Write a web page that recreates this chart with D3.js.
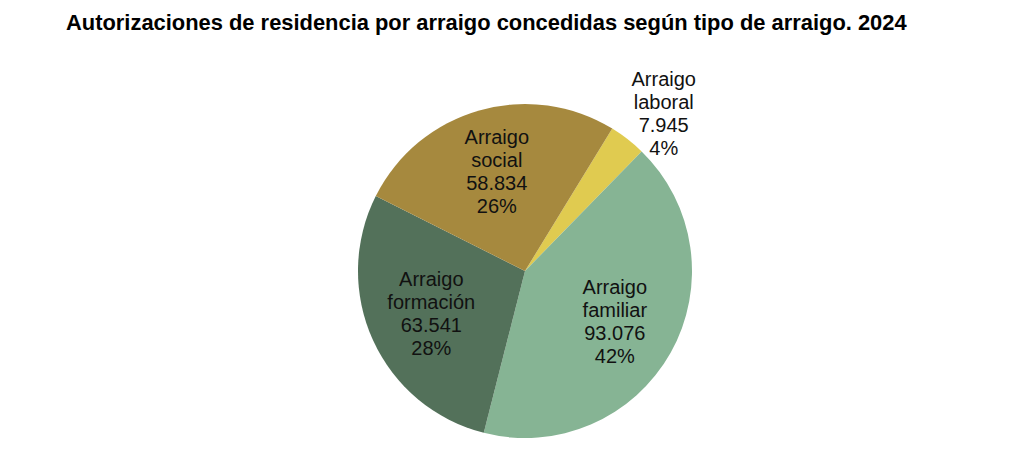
<!DOCTYPE html>
<html>
<head>
<meta charset="utf-8">
<script src="https://cdn.jsdelivr.net/npm/d3@7"></script>
<style>
  html, body { margin: 0; padding: 0; background: #fff; }
  svg { display: block; font-family: "Liberation Sans", Arial, sans-serif; }
</style>
</head>
<body>
<svg id="chart" width="1024" height="462"></svg>
<script>
// Autorizaciones de residencia por arraigo, 2024
const categories = ['Arraigo laboral', 'Arraigo familiar', 'Arraigo formación', 'Arraigo social'];
const values     = [7945, 93076, 63541, 58834];
const colors     = ['#e0cb50', '#86b494', '#53715a', '#a6893e'];

const W = 1024, H = 462;
const cx = 525, cy = 271, R = 167;
const START = 31.5 * Math.PI / 180;   // first slice begins just past 1 o'clock

const svg = d3.select('#chart');

svg.append('text')
  .attr('x', 66).attr('y', 30)
  .attr('font-size', 21.9).attr('font-weight', 'bold')
  .attr('fill', '#000')
  .text('Autorizaciones de residencia por arraigo concedidas según tipo de arraigo. 2024');

const data = categories.map((c, i) => ({ name: c, value: values[i], color: colors[i] }));
const total = d3.sum(values);

const pie = d3.pie().value(d => d.value).sort(null)
  .startAngle(START).endAngle(START + 2 * Math.PI);
const arcs = pie(data);

const arc = d3.arc().innerRadius(0).outerRadius(R);
const g = svg.append('g').attr('transform', `translate(${cx},${cy})`);

g.selectAll('path.slice')
  .data(arcs)
  .enter().append('path')
  .attr('class', 'slice')
  .attr('d', arc)
  .attr('fill', d => d.data.color);

// Labels: inside at ~0.62R, the small laboral slice outside
const fmt = d3.formatLocale({ decimal: ',', thousands: '.', grouping: [3] }).format(',d');
const small = d => d.data.value / total < 0.1;

const lbl = g.selectAll('text.lbl')
  .data(arcs)
  .enter().append('text')
  .attr('class', 'lbl')
  .attr('text-anchor', 'middle')
  .attr('font-size', 20)
  .attr('fill', '#111')
  .attr('transform', d => {
    const a = (d.startAngle + d.endAngle) / 2 + (small(d) ? 0.06 : 0);
    const r = small(d) ? 210 : 103;
    return `translate(${r * Math.sin(a)},${-r * Math.cos(a)})`;
  });

lbl.each(function (d) {
  const words = d.data.name.split(' ');
  const lines = [words[0], words.slice(1).join(' '), fmt(d.data.value),
    Math.round(d.data.value / total * 100) + '%'];
  const t = d3.select(this);
  lines.forEach((s, i) => {
    t.append('tspan')
      .attr('x', 0)
      .attr('y', (i - 1.5) * 23)
      .attr('dy', '0.35em')
      .text(s);
  });
});
</script>
</body>
</html>
